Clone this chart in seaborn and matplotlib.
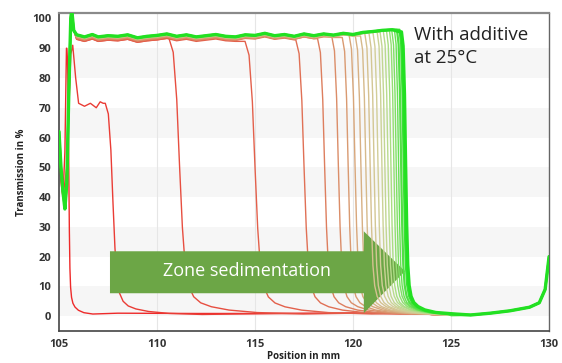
import numpy as np
import pandas as pd
import matplotlib
matplotlib.use("Agg")
import matplotlib.pyplot as plt
from matplotlib.colors import LinearSegmentedColormap
from matplotlib.patches import Polygon
from matplotlib.ticker import MultipleLocator
import seaborn as sns

# --- data ---
# front position (mm, ~50 % crossing) of each transmission profile, oldest -> newest
fronts = [105.5, 107.75, 111.15, 115.0, 117.5, 118.55, 119.25, 119.75, 120.1, 120.4,
          120.65, 120.87, 121.07, 121.27, 121.47, 121.62, 121.78, 121.93, 122.08,
          122.2, 122.32, 122.45, 122.58, 122.68]
# how spread out each front is (multiplies the drop template)
widths = [0.35, 1.3, 1.8, 1.7, 1.4, 1.2, 1.1, 1.0, 1.0, 0.95, 0.9, 0.9, 0.85, 0.85,
          0.8, 0.8, 0.8, 0.75, 0.75, 0.75, 0.7, 0.7, 0.7, 0.7]
# plateau level shift of each profile (%)
top_offset = [0, 0, -1.5, -1.5, -1.2, -1.0, -1.0, -0.8, -0.6, -0.5, -0.5, -0.4, -0.3,
              -0.3, -0.2, -0.2, -0.1, -0.1, 0, 0, 0, 0, 0, 0]

# meniscus region at the start of the cell
start_x = [105.0, 105.1, 105.2, 105.3, 105.4, 105.5, 105.6, 105.65, 105.75]
start_y = [62, 50, 42, 36, 45, 75, 100, 103, 96]

# plateau (clear supernatant) with its wiggles
plateau_x = [105.9, 106.3, 106.7, 107.0, 107.5, 108.0, 108.5, 109.0, 109.5, 110.0,
             110.5, 111.0, 111.5, 112.0, 112.5, 113.0, 113.5, 114.0, 114.5, 115.0,
             115.5, 116.0, 116.5, 117.0, 117.5, 118.0, 118.5, 119.0, 119.5, 120.0,
             120.5, 121.0, 121.5, 122.0, 122.4]
plateau_y = [94.5, 93.8, 94.6, 93.8, 94.2, 94.0, 94.5, 93.5, 94.0, 94.3,
             94.8, 94.0, 94.5, 93.8, 94.2, 94.6, 94.0, 93.8, 94.5, 94.3,
             95.0, 94.2, 94.6, 94.0, 94.8, 94.2, 94.8, 94.4, 95.0, 94.6,
             95.3, 95.6, 96.0, 96.2, 95.5]

# special heads: first profile and the one with the 72 % shelf
head0_x = [105.0, 105.1, 105.2, 105.3, 105.38]
head0_y = [55, 45, 40, 55, 90]
head1_x = [105.0, 105.2, 105.4, 105.6, 105.7, 105.85, 106.0, 106.3, 106.6, 106.9, 107.1, 107.25]
head1_y = [55, 40, 50, 88, 91, 80, 71.5, 70.5, 71.5, 70.0, 72.0, 71.5]

# shape of a falling front: offset from front (scaled by width) and fraction of plateau
drop_dx = [-0.30, -0.18, -0.08, 0.0, 0.08, 0.16, 0.26, 0.40, 0.60, 0.90, 1.40, 2.20, 3.50]
drop_frac = [1.0, 0.95, 0.78, 0.54, 0.32, 0.18, 0.108, 0.07, 0.048, 0.034, 0.022, 0.013, 0.008]

# sediment / bottom region
base_x = [108, 112, 116, 120, 123, 124, 125, 126, 127, 128, 129, 129.5, 129.8, 130]
base_y = [1.0, 0.9, 0.9, 1.0, 0.9, 0.6, 0.3, 0.4, 1.0, 1.8, 3.0, 4.5, 9.0, 20.0]


def build_profile(i):
    f, w = fronts[i], widths[i]
    x_cut = f + drop_dx[0] * w
    if i == 0:
        xs, ys = list(head0_x), list(head0_y)
    elif i == 1:
        xs, ys = list(head1_x), list(head1_y)
    else:
        xs, ys = list(start_x), list(start_y)
        for x, y in zip(plateau_x, plateau_y):
            if x < x_cut:
                xs.append(x)
                ys.append(y + top_offset[i])
    top = ys[-1]
    for dx, fr in zip(drop_dx, drop_frac):
        xs.append(f + dx * w)
        ys.append(fr * top)
    for x, y in zip(base_x, base_y):
        if x > xs[-1]:
            xs.append(x)
            ys.append(y)
    return pd.DataFrame({"x": xs, "y": ys, "profile": i})


sns.set_style("white")
plt.rcParams["font.family"] = ["Open Sans", "DejaVu Sans"]

fig = plt.figure(figsize=(5.62, 3.63), dpi=100)
ax = fig.add_axes([0.105, 0.088, 0.872, 0.876])

# background bands + vertical grid
for lo in range(0, 90, 20):
    ax.axhspan(lo, lo + 10, color="#f6f6f6", zorder=0, lw=0)
for gx in [110, 115, 120, 125]:
    ax.axvline(gx, color="#e6e6e6", lw=0.8, zorder=0.5)

n = len(fronts)
cmap = LinearSegmentedColormap.from_list(
    "rg", ["#ee2a2a", "#e2664e", "#d9966e", "#d6b98a", "#d2cf9a", "#b6dc8c", "#6fe05a", "#22e022"])
arrow_after = 10

for i in range(n):
    df = build_profile(i)
    lw = 1.0
    if i >= n - 3:
        lw = 1.6
    if i == n - 1:
        lw = 2.4
    sns.lineplot(data=df, x="x", y="y", sort=False, estimator=None, ax=ax,
                 color=cmap(i / (n - 1)), lw=lw, zorder=2 if i <= arrow_after else 4)

# block arrow
arrow = Polygon([(107.6, 21.8), (120.55, 21.8), (120.55, 28.5), (122.65, 15.1),
                 (120.55, 1.0), (120.55, 7.7), (107.6, 7.7)],
                closed=True, facecolor="#6ca646", edgecolor="none", zorder=3)
ax.add_patch(arrow)
ax.text(114.6, 15.1, "Zone sedimentation", color="white", fontsize=13,
        ha="center", va="center", zorder=5)
ax.text(123.1, 97.3, "With additive\nat 25°C", color="#222222", fontsize=13.5,
        ha="left", va="top", linespacing=1.35, zorder=5)

ax.set_xlim(105, 130)
ax.set_ylim(-5.0, 101.8)
ax.xaxis.set_major_locator(MultipleLocator(5))
ax.xaxis.set_minor_locator(MultipleLocator(1))
ax.yaxis.set_major_locator(MultipleLocator(10))
ax.yaxis.set_minor_locator(MultipleLocator(2))
ax.set_yticks(range(0, 101, 10))
ax.tick_params(which="major", direction="out", length=4, width=1, color="#444444",
               labelsize=8, labelcolor="#333333", pad=1.5)
ax.tick_params(which="minor", direction="in", length=4, width=0.9, color="#444444")
for lab in ax.get_xticklabels() + ax.get_yticklabels():
    lab.set_fontweight("bold")

ax.set_xlabel("Position in mm", fontsize=7, fontweight="bold", color="#222222", labelpad=1)
ax.set_ylabel("Transmission in %", fontsize=7, fontweight="bold", color="#222222", labelpad=4)

for side in ["left", "bottom"]:
    ax.spines[side].set_color("#444444")
    ax.spines[side].set_linewidth(1.2)
ax.spines["top"].set_color("#8a8a8a")
ax.spines["top"].set_linewidth(1.6)
ax.spines["right"].set_color("#666666")
ax.spines["right"].set_linewidth(1.0)

fig.savefig("out.png", dpi=100)
